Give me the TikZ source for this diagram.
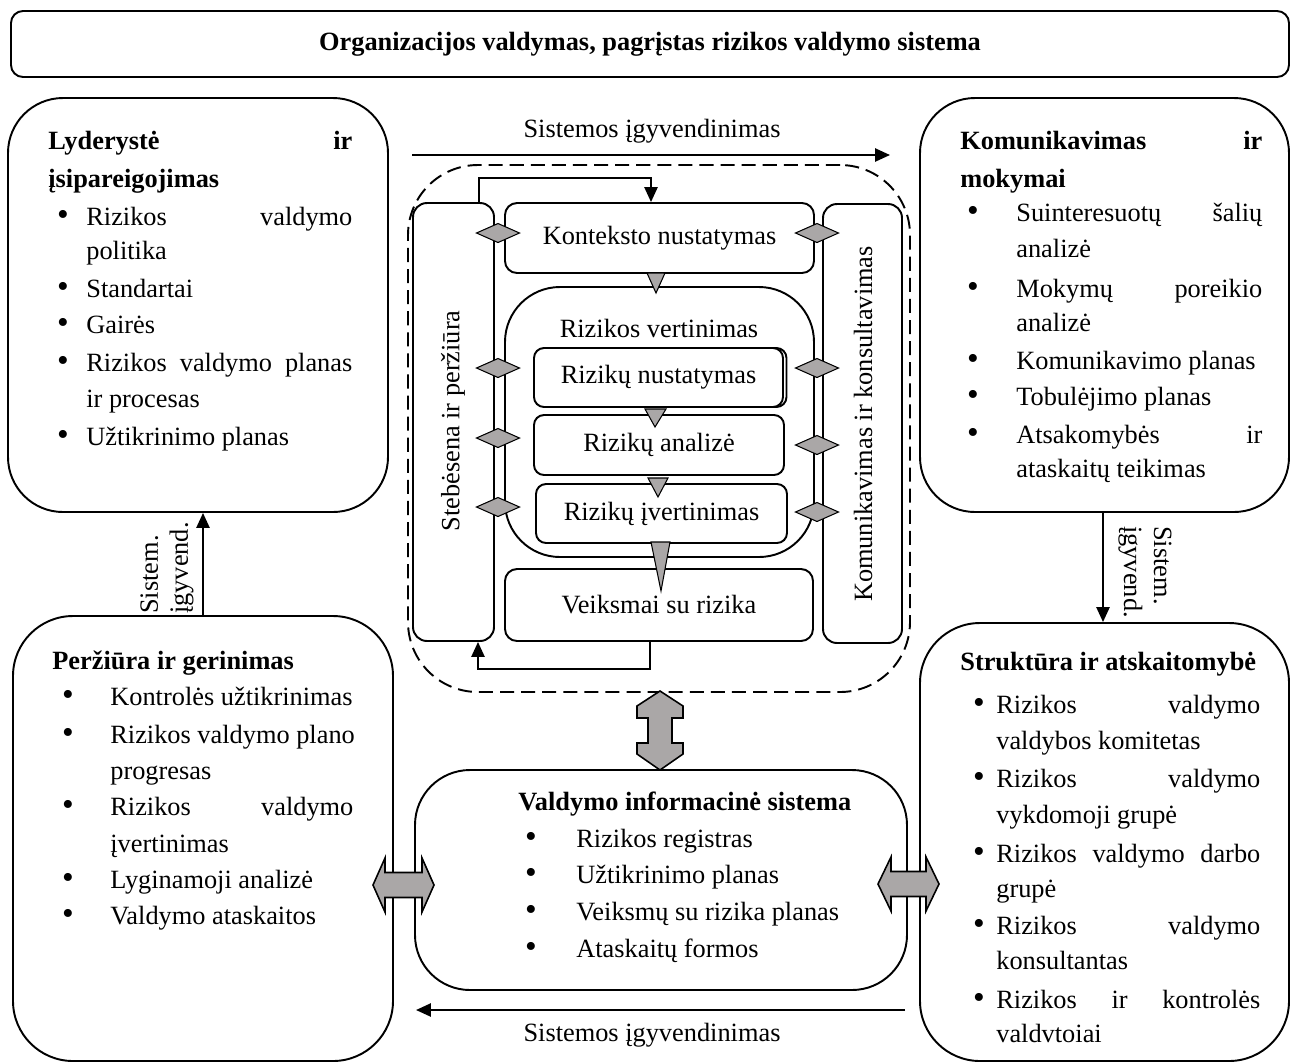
\documentclass[tikz,border=0pt]{standalone}
\usepackage{fontspec}
\setmainfont{Liberation Serif}
\usetikzlibrary{arrows.meta,calc}
\newlength\px
\setlength\px{0.02cm}
\newcommand\bodyfont{\fontsize{15pt}{18pt}\selectfont}
% a line spread to a given width (in px units)
\newcommand\jl[2]{\hbox to #1\px{#2}}
\definecolor{gr}{RGB}{170,167,167}
\tikzset{
  bx/.style={draw, line width=1.1pt, fill=white, inner sep=0pt},
  ln/.style={anchor=west, inner sep=0pt, font=\bodyfont, text height=10.8pt, text depth=2.7pt},
  hd/.style={ln, font=\bodyfont\bfseries},
  bul/.style={inner sep=0pt, font=\fontsize{19pt}{19pt}\selectfont},
  arr/.style={line width=1.1pt, -{Triangle[length=8.5pt,width=7.5pt]}},
  gshape/.style={fill=gr, draw=black, line width=0.9pt, line join=miter},
  lbl/.style={inner sep=0pt, font=\bodyfont},
}
\begin{document}
\begin{tikzpicture}[x=0.02cm, y=-0.02cm]
\useasboundingbox (0,0) rectangle (1292,1063);

% heading
\node[bx, minimum width=1278\px, minimum height=66\px, rounded corners=12\px,
      font=\bodyfont\bfseries] (TT) at (650,44)
      {Organizacijos valdymas, pagrįstas rizikos valdymo sistema};

% outer boxes
\node[bx, minimum width=380\px, minimum height=414\px, rounded corners=55\px] (LD) at (198,305) {};
\node[bx, minimum width=369\px, minimum height=414\px, rounded corners=55\px] (KM) at (1104.5,305) {};
\node[bx, minimum width=380\px, minimum height=445\px, rounded corners=60\px] (PG) at (203,838.5) {};
\node[bx, minimum width=369\px, minimum height=438\px, rounded corners=60\px] (ST) at (1104.5,842) {};
\node[bx, minimum width=492\px, minimum height=220\px, rounded corners=55\px] (VI) at (661,880) {};

% process block
\node[bx, dashed, dash pattern=on 8pt off 4pt, minimum width=502\px, minimum height=527\px,
      rounded corners=70\px] (DS) at (659,428.5) {};
\node[bx, minimum width=81\px, minimum height=438\px, rounded corners=14\px] (SB) at (453.5,422) {};
\node[bx, minimum width=79\px, minimum height=439\px, rounded corners=14\px] (KK) at (862.5,423.5) {};
\node[lbl, rotate=90] (SBt) at (453,421) {Stebėsena ir peržiūra};
\node[lbl, rotate=90] (KKt) at (863,424) {Komunikavimas ir konsultavimas};

\node[bx, minimum width=309\px, minimum height=70\px, rounded corners=12\px, font=\bodyfont] (KN) at (659.5,238) {Konteksto nustatymas};
\node[bx, minimum width=309\px, minimum height=270\px, rounded corners=55\px] (RV) at (659.5,422) {};
\node[lbl] (RVt) at (659,328) {Rizikos vertinimas};
\node[bx, minimum width=250\px, minimum height=59\px, rounded corners=10\px] (RNs) at (661.5,377.5) {};
\node[bx, minimum width=249\px, minimum height=59\px, rounded corners=10\px, font=\bodyfont] (RN) at (658.5,377.5) {Rizikų nustatymas};
\node[bx, minimum width=250\px, minimum height=60\px, rounded corners=10\px, font=\bodyfont] (RA) at (659,445) {Rizikų analizė};
\node[bx, minimum width=251\px, minimum height=59\px, rounded corners=10\px, font=\bodyfont] (RI) at (661.5,513.5) {Rizikų įvertinimas};
\node[bx, minimum width=308\px, minimum height=72\px, rounded corners=12\px, font=\bodyfont] (VS) at (659,605) {Veiksmai su rizika};

% loops of the process
\coordinate (ltop) at (479,178);
\coordinate (rtop) at (651,178);
\draw[arr] (ltop |- SB.north) -- (ltop) -- (rtop) -- (rtop |- KN.north);
\coordinate (lbot) at (478,669);
\coordinate (rbot) at (650,669);
\draw[arr] (rbot |- VS.south) -- (rbot) -- (lbot) -- (lbot |- SB.south);

% flow triangles
\draw[gshape, line width=0.6pt] (647,273) -- (665,273) -- (656,293) -- cycle;
\draw[gshape, line width=0.6pt] (645,409) -- (666,409) -- (655,427) -- cycle;
\draw[gshape, line width=0.6pt] (648,478) -- (668,478) -- (658,497) -- cycle;
\draw[gshape, line width=0.6pt] (651,542) -- (670,542) -- (661,591) -- cycle;

% exchange diamonds
\foreach \yy in {233,368,438,507}
  \draw[gshape, line width=0.6pt] (476.5,\yy) -- (498,\yy-9.5) -- (519.5,\yy) -- (498,\yy+9.5) -- cycle;
\foreach \yy in {233,368,445,512}
  \draw[gshape, line width=0.6pt] (795.5,\yy) -- (817,\yy-9.5) -- (838.5,\yy) -- (817,\yy+9.5) -- cycle;

% implementation arrows
\coordinate (ts) at (412,155);
\coordinate (te) at (890,155);
\draw[arr] (ts) -- (te);
\node[lbl] (tsl) at (652,131) {Sistemos įgyvendinimas};
\coordinate (bs) at (905,1010);
\coordinate (be) at (416,1010);
\draw[arr] (bs) -- (be);
\node[lbl] (bsl) at (652,1035) {Sistemos įgyvendinimas};

\coordinate (aL) at (203,560);
\draw[arr] (aL |- PG.north) -- (aL |- LD.south);
\node[lbl, rotate=90, align=left, font=\fontsize{15pt}{17pt}\selectfont] (aLt) at (167,568) {Sistem.\\įgyvend.};
\coordinate (aR) at (1103,560);
\draw[arr] (aR |- KM.south) -- (aR |- ST.north);
\node[lbl, rotate=-90, align=left, font=\fontsize{15pt}{17pt}\selectfont] (aRt) at (1145,572) {Sistem.\\įgyvend.};

% grey double arrows
\draw[gshape] (660,691) -- (683,706) -- (683,718) -- (672,718) -- (672,743) -- (683,743) -- (683,754)
  -- (660,770) -- (637,754) -- (637,743) -- (648,743) -- (648,718) -- (637,718) -- (637,706) -- cycle;
\draw[gshape] (373,885) -- (385,858) -- (385,872.5) -- (422,872.5) -- (422,858) -- (434,885)
  -- (422,912) -- (422,897.5) -- (385,897.5) -- (385,912) -- cycle;
\draw[gshape] (878,884) -- (891,857) -- (891,871.5) -- (926,871.5) -- (926,857) -- (939,884)
  -- (926,911) -- (926,896.5) -- (891,896.5) -- (891,911) -- cycle;

% Lyderystė ir įsipareigojimas
\node[hd] (LDh1) at (48,142) {\jl{304}{Lyderystė\hfill ir}};
\node[hd] (LDh2) at (48,180) {įsipareigojimas};
\foreach \yy/\txt [count=\i] in {218/{\jl{266}{Rizikos\hfill valdymo}}, 252/politika, 290/Standartai,
    326/Gairės, 364/{\jl{266}{Rizikos\hfill valdymo\hfill planas}}, 400/ir procesas, 438/Užtikrinimo planas}
  \node[ln] (LD-\i) at (86,\yy) {\txt};
\foreach \yy [count=\i] in {218,290,326,364,438}
  \node[bul] (LDb-\i) at (63,\yy) {\textbullet};

% Komunikavimas ir mokymai
\node[hd] (KMh1) at (960,142) {\jl{302}{Komunikavimas\hfill ir}};
\node[hd] (KMh2) at (960,180) {mokymai};
\foreach \yy/\txt [count=\i] in {214/{\jl{246}{Suinteresuotų\hfill šalių}}, 250/analizė,
    290/{\jl{246}{Mokymų\hfill poreikio}}, 324/analizė, 362/Komunikavimo planas,
    398/Tobulėjimo planas, 436/{\jl{246}{Atsakomybės\hfill ir}}, 470/ataskaitų teikimas}
  \node[ln] (KM-\i) at (1016,\yy) {\txt};
\foreach \yy [count=\i] in {214,290,362,398,436}
  \node[bul] (KMb-\i) at (973,\yy) {\textbullet};

% Peržiūra ir gerinimas
\node[hd] (PGh) at (52,662) {Peržiūra ir gerinimas};
\foreach \yy/\txt [count=\i] in {698/Kontrolės užtikrinimas, 736/Rizikos valdymo plano, 772/progresas,
    808/{\jl{243}{Rizikos\hfill valdymo}}, 845/įvertinimas, 881/Lyginamoji analizė, 917/Valdymo ataskaitos}
  \node[ln] (PG-\i) at (110,\yy) {\txt};
\foreach \yy [count=\i] in {698,736,808,881,917}
  \node[bul] (PGb-\i) at (68,\yy) {\textbullet};

% Struktūra ir atskaitomybė
\node[hd] (STh) at (960,663) {Struktūra ir atskaitomybė};
\foreach \yy/\txt [count=\i] in {706/{\jl{264}{Rizikos\hfill valdymo}}, 742/valdybos komitetas,
    780/{\jl{264}{Rizikos\hfill valdymo}}, 816/vykdomoji grupė,
    855/{\jl{264}{Rizikos\hfill valdymo\hfill darbo}}, 890/grupė,
    927/{\jl{264}{Rizikos\hfill valdymo}}, 962/konsultantas,
    1001/{\jl{264}{Rizikos\hfill ir\hfill kontrolės}}, 1035/valdvtoiai}
  \node[ln] (ST-\i) at (996,\yy) {\txt};
\foreach \yy [count=\i] in {706,780,855,927,1001}
  \node[bul] (STb-\i) at (979,\yy) {\textbullet};

% Valdymo informacinė sistema
\node[hd] (VIh) at (518,803) {Valdymo informacinė sistema};
\foreach \yy/\txt [count=\i] in {840/Rizikos registras, 876/Užtikrinimo planas,
    913/Veiksmų su rizika planas, 950/Ataskaitų formos}
  \node[ln] (VI-\i) at (576,\yy) {\txt};
\foreach \yy [count=\i] in {840,876,913,950}
  \node[bul] (VIb-\i) at (531,\yy) {\textbullet};
\end{tikzpicture}
\end{document}
